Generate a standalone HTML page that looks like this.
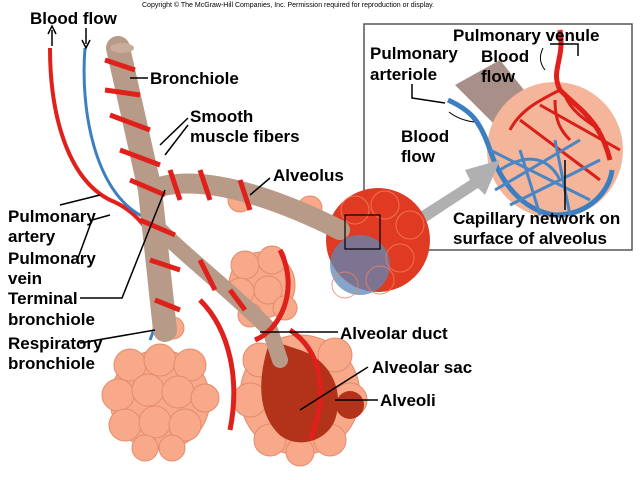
<!DOCTYPE html>
<html><head><meta charset="utf-8"><style>
body{margin:0;background:#fff;}
svg{display:block;}
text{font-family:"Liberation Sans",sans-serif;font-weight:bold;font-size:17px;fill:#000;}
.b{fill:#f7a98a;stroke:#e48b6c;stroke-width:1;}
</style></head><body>
<svg width="640" height="480" viewBox="0 0 640 480" xmlns="http://www.w3.org/2000/svg">
<rect width="640" height="480" fill="#fff"/>
<text x="142" y="7" style="font-size:7px;font-weight:normal">Copyright © The McGraw-Hill Companies, Inc. Permission required for reproduction or display.</text>

<!-- inset box -->
<rect x="364" y="24" width="268" height="226" fill="#fff" stroke="#555" stroke-width="1.5"/>
<path d="M455 85 L500 60 L540 110 L510 140 Z" fill="#a89088"/>
<circle cx="555" cy="150" r="68" fill="#f4b59a"/>
<g fill="none" stroke-width="3">
<path d="M560 30 C565 60,550 70,560 90 C580 110,600 120,610 160" stroke="#e0201a" stroke-width="5"/>
<path d="M560 90 C540 100,520 110,510 130 M565 95 C570 110,585 120,600 130 M555 100 C555 120,560 130,570 140 M520 120 L600 180 M540 105 L620 150" stroke="#d92018"/>
<path d="M448 100 C470 110,480 120,490 150 C500 180,520 210,555 215 C590 215,610 190,612 170" stroke="#3c7fc0" stroke-width="5"/>
<path d="M500 170 C530 150,550 160,560 180 M495 190 L580 140 M510 205 L600 160 M520 150 L540 215 M555 140 L570 215 M490 150 L590 200" stroke="#4a86c4"/>
</g>
<path d="M545 70 q-8 -10 -2 -22" stroke="#000" fill="none" stroke-width="1"/>
<path d="M449 112 q10 8 25 10" stroke="#000" fill="none" stroke-width="1"/>
<polyline points="412,84 412,98 445,103" fill="none" stroke="#000" stroke-width="1.5"/>
<polyline points="578,56 578,44 550,44" fill="none" stroke="#000" stroke-width="1.5"/>
<line x1="565" y1="160" x2="565" y2="210" stroke="#000" stroke-width="1.5"/>
<path d="M395 228 L470 180 L465 170 L500 160 L485 195 L478 188 L402 238 Z" fill="#b0b0b0"/>

<!-- vessels left -->
<path d="M50 48 C50 120,70 180,110 200 C160 220,170 280,170 320" fill="none" stroke="#e0201a" stroke-width="4"/>
<path d="M85 48 C80 110,95 190,140 215 C180 235,170 290,150 340" fill="none" stroke="#3c7fc0" stroke-width="3"/>
<path d="M52 46 V30 M48 34 L52 26 L56 34" stroke="#000" fill="none" stroke-width="1.5"/>
<path d="M86 28 V44 M82 40 L86 48 L90 40" stroke="#000" fill="none" stroke-width="1.5"/>

<!-- lower-left cluster -->
<g class="b">
<circle cx="160" cy="400" r="50"/>
<circle cx="130" cy="365" r="16"/><circle cx="160" cy="360" r="16"/><circle cx="190" cy="365" r="16"/>
<circle cx="118" cy="395" r="16"/><circle cx="148" cy="390" r="16"/><circle cx="178" cy="392" r="16"/><circle cx="205" cy="398" r="14"/>
<circle cx="125" cy="425" r="16"/><circle cx="155" cy="422" r="16"/><circle cx="185" cy="425" r="16"/>
<circle cx="145" cy="448" r="13"/><circle cx="172" cy="448" r="13"/>
</g>
<!-- middle small cluster -->
<g class="b">
<circle cx="262" cy="285" r="33"/>
<circle cx="245" cy="265" r="14"/><circle cx="272" cy="260" r="14"/><circle cx="240" cy="292" r="14"/><circle cx="268" cy="290" r="14"/><circle cx="285" cy="308" r="12"/><circle cx="250" cy="315" r="12"/>
<circle cx="240" cy="200" r="12"/><circle cx="310" cy="208" r="12"/><circle cx="173" cy="328" r="11"/>
</g>
<!-- alveolar sac cluster -->
<g class="b">
<circle cx="300" cy="395" r="60"/>
<circle cx="260" cy="360" r="17"/><circle cx="335" cy="355" r="17"/><circle cx="250" cy="400" r="17"/><circle cx="350" cy="400" r="17"/><circle cx="270" cy="440" r="16"/><circle cx="330" cy="440" r="16"/><circle cx="300" cy="452" r="14"/>
</g>
<path d="M270 340 L300 350 C330 360,345 390,335 420 C325 445,290 450,275 430 C255 405,260 370,270 340Z" fill="#b2321a"/>
<circle cx="350" cy="405" r="14" fill="#b2321a"/>
<!-- right cluster -->
<circle cx="378" cy="240" r="52" fill="#e03a22"/>
<circle cx="360" cy="265" r="30" fill="#5c88b8" opacity="0.75"/>
<g fill="none" stroke="#f08060" stroke-width="1" opacity="0.8">
<circle cx="355" cy="210" r="14"/><circle cx="385" cy="205" r="14"/><circle cx="410" cy="225" r="14"/><circle cx="400" cy="258" r="14"/><circle cx="380" cy="280" r="14"/><circle cx="345" cy="285" r="13"/>
</g>

<!-- bronchiole tree -->
<g fill="none" stroke="#b89a88" stroke-linecap="round">
<path d="M118 48 L150 190 L165 330" stroke-width="24"/>
<path d="M150 190 C200 170,280 200,340 230" stroke-width="20"/>
<path d="M160 230 C190 260,230 290,270 330 L280 360" stroke-width="16"/>
</g>
<g fill="none" stroke="#e0201a" stroke-width="5">
<path d="M105 60 L135 70 M105 90 L140 95 M110 115 L150 130 M120 150 L160 165 M130 180 L165 195 M170 170 L180 200 M200 170 L210 200 M240 180 L250 210 M140 220 L175 235 M150 260 L180 270 M155 300 L180 310 M200 260 L215 290 M230 290 L245 310"/>
<path d="M200 300 C230 330,240 380,230 430 M290 330 C320 350,330 390,310 440 M280 250 C300 290,280 330,255 340"/>
</g>
<ellipse cx="122" cy="48" rx="12" ry="5" fill="#c9ad9a"/>

<rect x="345" y="215" width="35" height="34" fill="none" stroke="#000" stroke-width="1.2"/>

<g stroke="#000" stroke-width="1.5" fill="none">
<line x1="130" y1="78" x2="148" y2="78"/>
<polyline points="188,118 160,145"/><polyline points="188,125 165,155"/>
<line x1="270" y1="178" x2="250" y2="195"/>
<polyline points="60,205 100,195"/>
<polyline points="78,258 92,220 110,215"/>
<polyline points="80,298 122,298 165,190"/>
<polyline points="80,343 155,330"/>
<line x1="338" y1="332" x2="260" y2="332"/>
<line x1="368" y1="367" x2="300" y2="410"/>
<line x1="378" y1="400" x2="335" y2="400"/>
</g>

<text x="30" y="24">Blood flow</text>
<text x="150" y="84">Bronchiole</text>
<text x="190" y="122">Smooth</text>
<text x="190" y="142">muscle fibers</text>
<text x="273" y="181">Alveolus</text>
<text x="8" y="222">Pulmonary</text>
<text x="8" y="242">artery</text>
<text x="8" y="264">Pulmonary</text>
<text x="8" y="284">vein</text>
<text x="8" y="304">Terminal</text>
<text x="8" y="325">bronchiole</text>
<text x="8" y="349">Respiratory</text>
<text x="8" y="369">bronchiole</text>
<text x="340" y="339">Alveolar duct</text>
<text x="372" y="373">Alveolar sac</text>
<text x="380" y="406">Alveoli</text>
<text x="453" y="41">Pulmonary venule</text>
<text x="481" y="62">Blood</text>
<text x="481" y="82">flow</text>
<text x="370" y="59">Pulmonary</text>
<text x="370" y="80">arteriole</text>
<text x="401" y="142">Blood</text>
<text x="401" y="162">flow</text>
<text x="453" y="224">Capillary network on</text>
<text x="453" y="244">surface of alveolus</text>
</svg>
</body></html>
